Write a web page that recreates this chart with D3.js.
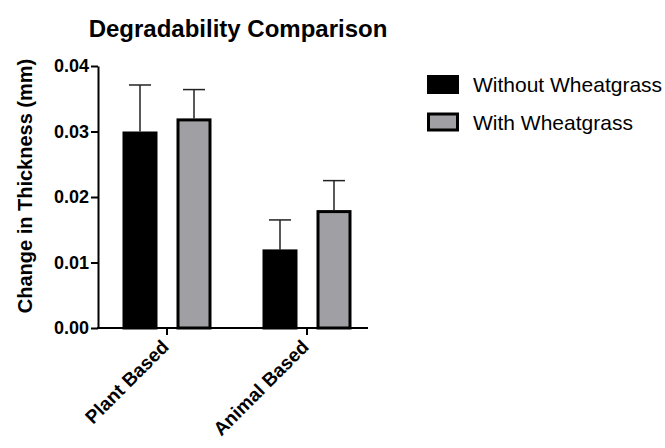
<!DOCTYPE html>
<html>
<head>
<meta charset="utf-8">
<script src="https://cdn.jsdelivr.net/npm/d3@7"></script>
<style>
  body { margin: 0; background: #fff; }
  text { font-family: "Liberation Sans", Arial, sans-serif; }
</style>
</head>
<body>
<div id="root"></div>
<script>
const categories = ["Plant Based", "Animal Based"]
const seriesNames = ["Without Wheatgrass", "With Wheatgrass"]
const withoutValues = [0.030, 0.012]
const withValues = [0.032, 0.018]
const withoutErrors = [0.0071, 0.0045]
const withErrors = [0.0044, 0.0045]
const yTicks = [0, 0.01, 0.02, 0.03, 0.04]

const colors = { "Without Wheatgrass": "#000000", "With Wheatgrass": "#a0a0a4" }

const width = 665, height = 448

const svg = d3.select("#root").append("svg")
    .attr("width", width)
    .attr("height", height)

const y = d3.scaleLinear().domain([0, 0.04]).range([328, 66])
const x = d3.scaleBand().domain(categories).range([97, 377]).paddingInner(0)
const xs = d3.scaleBand().domain(seriesNames).range([-44.5, 44.5]).paddingInner(0.352)

// rows for the bars
const rows = []
categories.forEach((c, i) => {
    rows.push({ cat: c, series: seriesNames[0], value: withoutValues[i], err: withoutErrors[i] })
    rows.push({ cat: c, series: seriesNames[1], value: withValues[i], err: withErrors[i] })
})

const cx = d => x(d.cat) + x.bandwidth() / 2 + xs(d.series)

// error bars (drawn under bars)
const errG = svg.append("g").attr("stroke", "#222").attr("stroke-width", 1.5)
rows.forEach(d => {
    let mid = cx(d) + xs.bandwidth() / 2
    errG.append("line")
        .attr("x1", mid).attr("x2", mid)
        .attr("y1", y(d.value)).attr("y2", y(d.value + d.err))
    errG.append("line")
        .attr("x1", mid - 11).attr("x2", mid + 11)
        .attr("y1", y(d.value + d.err)).attr("y2", y(d.value + d.err))
})

// bars
svg.append("g").selectAll("rect")
    .data(rows)
    .join("rect")
    .attr("x", d => cx(d) + 1.5)
    .attr("width", xs.bandwidth() - 3)
    .attr("y", d => y(d.value) + 1.5)
    .attr("height", d => y(0) - y(d.value) - 1.5)
    .attr("fill", d => colors[d.series])
    .attr("stroke", "#000")
    .attr("stroke-width", 3)

// y axis
const yAxis = svg.append("g")
    .attr("transform", "translate(98,0)")
    .call(d3.axisLeft(y).tickValues(yTicks).tickFormat(d3.format(".2f")).tickSize(7).tickSizeOuter(0))
yAxis.select(".domain").attr("stroke", "#000").attr("stroke-width", 2)
yAxis.selectAll(".tick line").attr("stroke", "#000").attr("stroke-width", 2)
yAxis.selectAll(".tick text")
    .attr("x", -9)
    .attr("fill", "#000")
    .style("font-size", "18px")
    .style("font-weight", "bold")
    .style("font-family", "'Liberation Sans', Arial, sans-serif")

// x axis
const xAxis = svg.append("g")
    .attr("transform", "translate(0,328)")
    .call(d3.axisBottom(x).tickSize(7).tickSizeOuter(0))
xAxis.select(".domain").remove()
svg.append("line")
    .attr("x1", 97).attr("x2", 368)
    .attr("y1", 328).attr("y2", 328)
    .attr("stroke", "#000").attr("stroke-width", 2)
xAxis.selectAll(".tick line").attr("stroke", "#000").attr("stroke-width", 2)
xAxis.selectAll(".tick text")
    .attr("fill", "#000")
    .attr("text-anchor", "end")
    .attr("dy", null)
    .attr("y", 0)
    .attr("transform", "translate(3,20) rotate(-45)")
    .style("font-size", "19px")
    .style("font-weight", "bold")
    .style("font-family", "'Liberation Sans', Arial, sans-serif")

// title
svg.append("text")
    .attr("x", 238).attr("y", 37)
    .attr("text-anchor", "middle")
    .style("font-size", "24px")
    .style("font-weight", "bold")
    .text("Degradability Comparison")

// y label
svg.append("text")
    .attr("transform", "translate(32,186) rotate(-90)")
    .attr("text-anchor", "middle")
    .style("font-size", "20px")
    .style("font-weight", "bold")
    .text("Change in Thickness (mm)")

// legend
const legend = svg.append("g")
seriesNames.forEach((s, i) => {
    let ly = 75 + i * 37.5
    legend.append("rect")
        .attr("x", 428.5).attr("y", ly + 1.5)
        .attr("width", 29).attr("height", 16)
        .attr("fill", colors[s])
        .attr("stroke", "#000").attr("stroke-width", 3)
    legend.append("text")
        .attr("x", 473).attr("y", ly + 17)
        .style("font-size", "21px")
        .text(s)
})
</script>
</body>
</html>
